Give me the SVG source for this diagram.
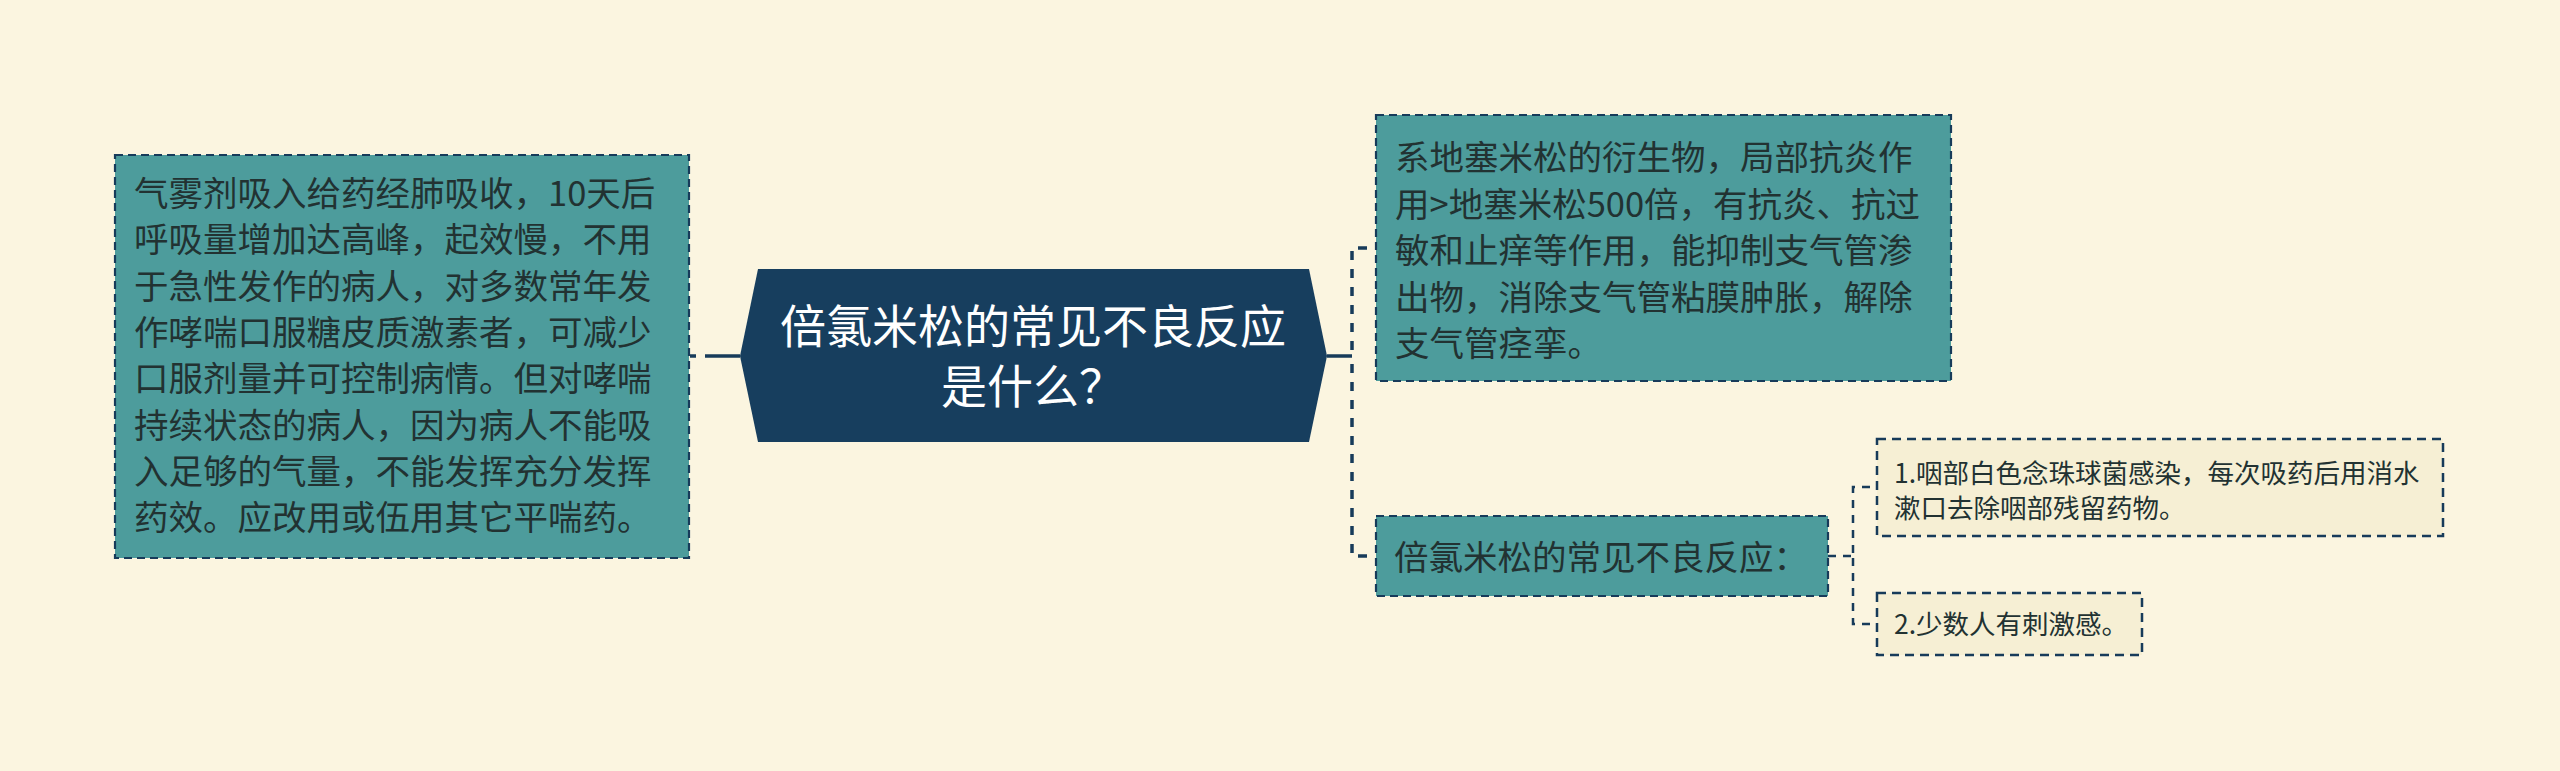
<svg xmlns="http://www.w3.org/2000/svg" width="2560" height="771" viewBox="0 0 2560 771">
<style>
.bg{fill:#FBF5E0}
.teal{fill:#4D9C9C;stroke:#173B5A;stroke-width:2.2;stroke-dasharray:8 5}
.leaf{fill:#F6EFD4;stroke:#173B5A;stroke-width:2.5;stroke-dasharray:9 6}
.t{font-family:"Noto Sans CJK SC","Noto Sans",sans-serif;fill:#223232}
.t34{font-size:34.5px}
.t26{font-size:26.5px}
.title{font-family:"Noto Sans CJK SC","Noto Sans",sans-serif;font-size:46px;fill:#FFFFFF;text-anchor:middle}
.c1{fill:none;stroke:#173B5A;stroke-width:3.5}
.c1d{fill:none;stroke:#173B5A;stroke-width:3.5;stroke-dasharray:9 9}
.c2d{fill:none;stroke:#173B5A;stroke-width:2.5;stroke-dasharray:8 7}
</style>
<rect class="bg" x="0" y="0" width="2560" height="771"/>
<g id="connectors">
<path class="c1" d="M740,356 H705"/>
<path class="c1" d="M696,356 H690"/>
<path class="c1" d="M1327,356 H1352"/>
<path class="c1d" d="M1376,248 H1352 V356" stroke-dashoffset="9"/>
<path class="c1d" d="M1376,556 H1352 V356" stroke-dashoffset="9"/>
<path class="c2d" d="M1828,556 H1853"/>
<path class="c2d" d="M1877,487 H1853 V556" stroke-dashoffset="8"/>
<path class="c2d" d="M1877,624 H1853 V556" stroke-dashoffset="8"/>
</g>
<g id="root">
<polygon points="758,269 1309,269 1327,356 1309,442 758,442 740,356" fill="#173E5E"/>
<text class="title" x="1033" y="343">倍氯米松的常见不良反应</text>
<text class="title" x="1033" y="403">是什么？</text>
</g>
<g id="left-node">
<rect class="teal" x="115" y="155" width="574" height="403"/>
<text class="t t34" x="134">
<tspan x="134" y="206">气雾剂吸入给药经肺吸收，10天后</tspan>
<tspan x="134" y="252.3">呼吸量增加达高峰，起效慢，不用</tspan>
<tspan x="134" y="298.6">于急性发作的病人，对多数常年发</tspan>
<tspan x="134" y="344.9">作哮喘口服糖皮质激素者，可减少</tspan>
<tspan x="134" y="391.2">口服剂量并可控制病情。但对哮喘</tspan>
<tspan x="134" y="437.5">持续状态的病人，因为病人不能吸</tspan>
<tspan x="134" y="483.8">入足够的气量，不能发挥充分发挥</tspan>
<tspan x="134" y="530.1">药效。应改用或伍用其它平喘药。</tspan>
</text>
</g>
<g id="right-top-node">
<rect class="teal" x="1376" y="115" width="575" height="266"/>
<text class="t t34">
<tspan x="1395" y="170">系地塞米松的衍生物，局部抗炎作</tspan>
<tspan x="1395" y="216.5">用&gt;地塞米松500倍，有抗炎、抗过</tspan>
<tspan x="1395" y="263">敏和止痒等作用，能抑制支气管渗</tspan>
<tspan x="1395" y="309.5">出物，消除支气管粘膜肿胀，解除</tspan>
<tspan x="1395" y="356">支气管痉挛。</tspan>
</text>
</g>
<g id="right-mid-node">
<rect class="teal" x="1376" y="516" width="452" height="80"/>
<text class="t t34" x="1394" y="570">倍氯米松的常见不良反应：</text>
</g>
<g id="leaf-1">
<rect class="leaf" x="1877" y="439" width="566" height="97"/>
<text class="t t26">
<tspan x="1894" y="483">1.咽部白色念珠球菌感染，每次吸药后用消水</tspan>
<tspan x="1894" y="518">漱口去除咽部残留药物。</tspan>
</text>
</g>
<g id="leaf-2">
<rect class="leaf" x="1877" y="593" width="265" height="62"/>
<text class="t t26" x="1894" y="634">2.少数人有刺激感。</text>
</g>
</svg>
